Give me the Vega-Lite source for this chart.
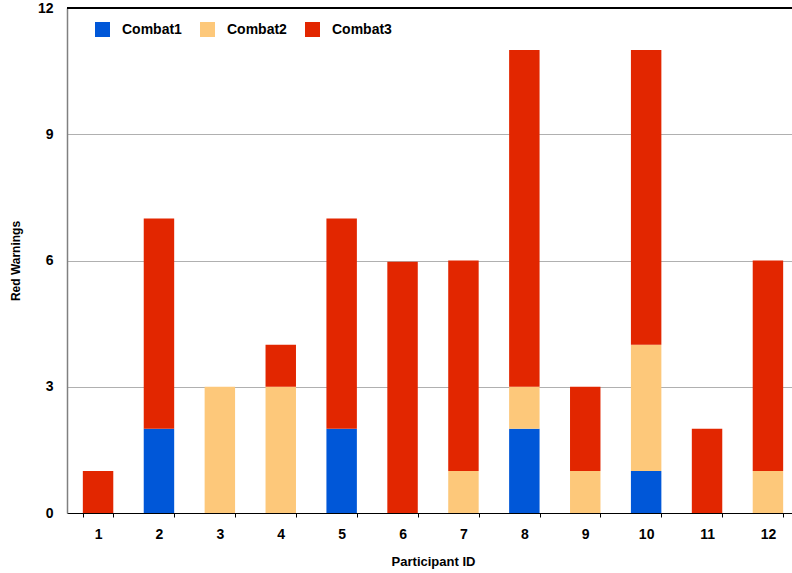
{
  "$schema": "https://vega.github.io/schema/vega-lite/v6.json",
  "width": 732,
  "height": 505,
  "autosize": {"type": "none"},
  "padding": {"left": 67, "top": 8, "right": 0, "bottom": 60},
  "background": "white",
  "config": {
    "view": {"stroke": null},
    "font": "Liberation Sans"
  },
  "data": {
    "values": [
      {"pid": 1, "combat": "Combat3", "warnings": 1},
      {"pid": 2, "combat": "Combat1", "warnings": 2},
      {"pid": 2, "combat": "Combat3", "warnings": 5},
      {"pid": 3, "combat": "Combat2", "warnings": 3},
      {"pid": 4, "combat": "Combat2", "warnings": 3},
      {"pid": 4, "combat": "Combat3", "warnings": 1},
      {"pid": 5, "combat": "Combat1", "warnings": 2},
      {"pid": 5, "combat": "Combat3", "warnings": 5},
      {"pid": 6, "combat": "Combat3", "warnings": 5.97},
      {"pid": 7, "combat": "Combat2", "warnings": 1},
      {"pid": 7, "combat": "Combat3", "warnings": 5},
      {"pid": 8, "combat": "Combat1", "warnings": 2},
      {"pid": 8, "combat": "Combat2", "warnings": 1},
      {"pid": 8, "combat": "Combat3", "warnings": 8},
      {"pid": 9, "combat": "Combat2", "warnings": 1},
      {"pid": 9, "combat": "Combat3", "warnings": 2},
      {"pid": 10, "combat": "Combat1", "warnings": 1},
      {"pid": 10, "combat": "Combat2", "warnings": 3},
      {"pid": 10, "combat": "Combat3", "warnings": 7},
      {"pid": 11, "combat": "Combat3", "warnings": 2},
      {"pid": 12, "combat": "Combat2", "warnings": 1},
      {"pid": 12, "combat": "Combat3", "warnings": 5}
    ]
  },
  "layer": [
    {
      "mark": {"type": "bar"},
      "encoding": {
        "x": {
          "field": "pid",
          "type": "ordinal",
          "title": "Participant ID",
          "scale": {"paddingInner": 0.5, "paddingOuter": 0.26},
          "axis": {
            "labelAngle": 0,
            "labelFont": "Liberation Sans",
            "labelFontSize": 14,
            "labelFontWeight": "bold",
            "labelColor": "black",
            "labelPadding": 10,
            "tickBand": "extent",
            "tickColor": "black",
            "tickSize": 4,
            "domainColor": "black",
            "domainWidth": 1.2,
            "titleFont": "Liberation Sans",
            "titleFontSize": 13,
            "titleFontWeight": "bold",
            "titleColor": "black",
            "titlePadding": 14
          }
        },
        "y": {
          "field": "warnings",
          "type": "quantitative",
          "aggregate": "sum",
          "stack": "zero",
          "title": "Red Warnings",
          "scale": {"domain": [0, 12], "nice": false},
          "axis": {
            "values": [0, 3, 6, 9, 12],
            "ticks": false,
            "labelFont": "Liberation Sans",
            "labelFontSize": 14,
            "labelFontWeight": "bold",
            "labelColor": "black",
            "labelPadding": 14,
            "domainColor": "#808080",
            "domainWidth": 1.5,
            "gridColor": "#b0b0b0",
            "gridWidth": 1,
            "titleFont": "Liberation Sans",
            "titleFontSize": 12,
            "titleFontWeight": "bold",
            "titleColor": "black",
            "titlePadding": 15
          }
        },
        "color": {
          "field": "combat",
          "type": "nominal",
          "scale": {
            "domain": ["Combat1", "Combat2", "Combat3"],
            "range": ["#0057D8", "#FDC87A", "#E22600"]
          },
          "legend": {
            "title": null,
            "orient": "none",
            "legendX": 28,
            "legendY": 14,
            "direction": "horizontal",
            "symbolType": "square",
            "symbolSize": 225,
            "symbolStrokeWidth": 0,
            "symbolOpacity": 1,
            "labelFont": "Liberation Sans",
            "labelFontSize": 14,
            "labelFontWeight": "bold",
            "labelColor": "black",
            "labelOffset": 12,
            "columnPadding": 18
          }
        },
        "order": {"field": "combat", "sort": "ascending"}
      }
    },
    {
      "mark": {"type": "rule", "color": "black", "strokeWidth": 1.5},
      "encoding": {"y": {"datum": 12}}
    }
  ]
}
